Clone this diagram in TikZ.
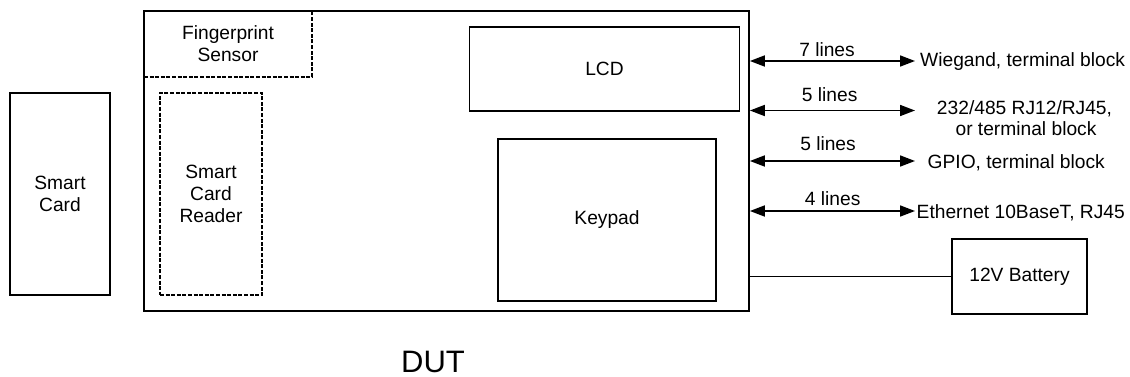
\documentclass[tikz,border=0pt]{standalone}
\usepackage{fontspec}
\setmainfont{Liberation Sans}
\usetikzlibrary{arrows.meta}
\tikzset{
  box/.style={draw, line width=1.7pt, inner sep=0pt, align=center},
  dbox/.style={box, line width=1.5pt, dash pattern=on 4pt off 1.6pt},
  txt/.style={inner sep=0pt, align=center},
  biarrow/.style={line width=1.7pt, {Triangle[length=15pt,width=11pt]}-{Triangle[length=15pt,width=11pt]}},
  wire/.style={line width=1.7pt}
}
\begin{document}
\begin{tikzpicture}[x=1pt,y=-1pt,font=\fontsize{19.2}{22}\selectfont]
\useasboundingbox (0,0) rectangle (1130,377);
% main DUT box
\node[box, minimum width=605pt, minimum height=300pt] (dut) at (446.5,161) {};
\node[dbox, minimum width=168pt, minimum height=66pt] (fp) at (228,44) {Fingerprint\\Sensor};
\node[dbox, minimum width=102pt, minimum height=202pt] (reader) at (211,194) {Smart\\Card\\Reader};
\node[box, minimum width=270pt, minimum height=84pt] (lcd) at (604.5,69) {LCD};
\node[box, minimum width=218pt, minimum height=162pt] (keypad) at (607,220) {Keypad};
\node[box, minimum width=100pt, minimum height=202pt] (card) at (60,194) {Smart\\Card};
\node[box, minimum width=135pt, minimum height=75pt] (bat) at (1019.5,276.5) {12V Battery};
\node[txt, font=\fontsize{31}{35}\selectfont, anchor=base] (dutlbl) at (433,372) {DUT};
% interface ends
\coordinate (e1) at (915,61);
\coordinate (e2) at (915,110.5);
\coordinate (e3) at (915,161);
\coordinate (e4) at (915,211);
\draw[biarrow] (dut.east |- e1) -- (e1);
\draw[biarrow] (dut.east |- e2) -- (e2);
\draw[biarrow] (dut.east |- e3) -- (e3);
\draw[biarrow] (dut.east |- e4) -- (e4);
\node[txt, anchor=base] (l1) at (827,56.7) {7 lines};
\node[txt, anchor=base] (l2) at (829.7,101.7) {5 lines};
\node[txt, anchor=base] (l3) at (828,151) {5 lines};
\node[txt, anchor=base] (l4) at (832.7,205.7) {4 lines};
\node[txt, anchor=base west] (t1) at (920,67) {Wiegand, terminal block};
\node[txt, anchor=base] (t2a) at (1024.5,115) {232/485 RJ12/RJ45,};
\node[txt, anchor=base] (t2b) at (1026,135.5) {or terminal block};
\node[txt, anchor=base west] (t3) at (927.5,168) {GPIO, terminal block};
\node[txt, anchor=base west] (t4) at (916.5,218) {Ethernet 10BaseT, RJ45};
\draw[wire] (dut.east |- bat.west) -- (bat.west);
\end{tikzpicture}
\end{document}
